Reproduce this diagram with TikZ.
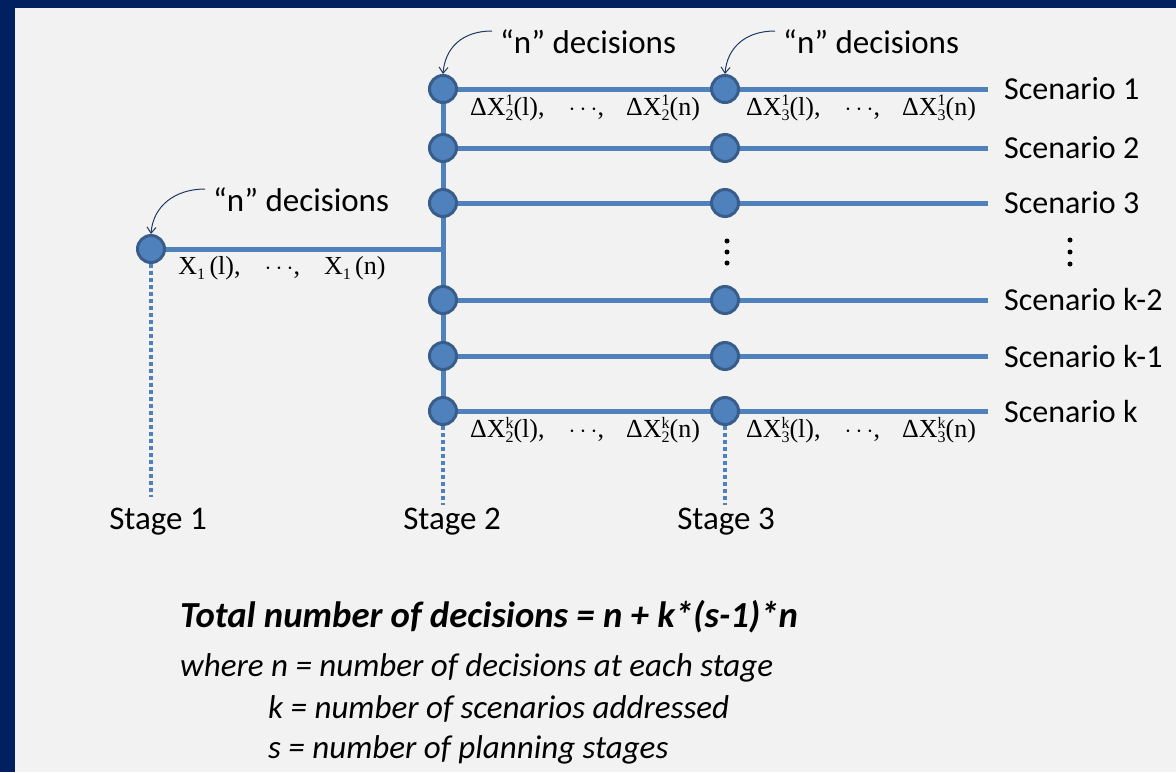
\documentclass[tikz,border=0pt]{standalone}
\usepackage{fontspec}
\setmainfont{Carlito}
\newfontfamily\tnr{Liberation Serif}
\usetikzlibrary{arrows.meta}
\definecolor{navy}{HTML}{002060}
\definecolor{bgc}{HTML}{F2F2F2}
\definecolor{lineblue}{HTML}{4F81BD}
\definecolor{nodeborder}{HTML}{385D8A}
\definecolor{arrowc}{HTML}{1F3864}
\newcommand\mysupsub[2]{\raisebox{-5.5pt}{\fontsize{16}{14}\selectfont\begin{tabular}[b]{@{}l@{}}#1\\#2\end{tabular}}}
\newcommand\mysub[1]{{\fontsize{16}{16}\selectfont\raisebox{-5.5pt}{#1}}}
\newcommand\mydots{{\fontsize{24}{24}\selectfont$\cdots$}}
\tikzset{
  dec/.style={circle, minimum size=27pt, inner sep=0pt, fill=lineblue, draw=nodeborder, line width=3pt},
  bl/.style={draw=lineblue, line width=5pt},
  dotl/.style={draw=lineblue, line width=3.5pt, dash pattern=on 4pt off 3pt},
  arr/.style={draw=arrowc, line width=1pt, -{Straight Barb[length=6pt,width=9pt]}},
  big/.style={font=\fontsize{32}{36}\selectfont, inner sep=0pt, anchor=west},
  nd/.style={font=\fontsize{33}{36}\selectfont, inner sep=0pt, anchor=west},
  stg/.style={font=\fontsize{33}{36}\selectfont, inner sep=0pt},
  lab/.style={font=\tnr\fontsize{26}{28}\selectfont, inner sep=0pt},
  vdot/.style={circle, fill=black, inner sep=0pt, minimum size=5pt},
}
\begin{document}
\begin{tikzpicture}[x=1pt,y=-1pt]
\useasboundingbox (0,0) rectangle (1176,772);
\fill[navy] (0,0) rectangle (1176,772);
\fill[bgc] (15,8) rectangle (1176,772);

% coordinates
\coordinate (j) at (443,249);
\foreach \i/\y in {1/89,2/148,3/203,4/300,5/356,6/411}{
  \coordinate (e\i) at (988,\y);
}
\coordinate (d1) at (151,497);
\coordinate (d2) at (443,505);
\coordinate (d3) at (725,505);

% lines
\draw[bl] (151,249) -- (j);
\draw[bl] (443,89) -- (443,411);
\foreach \i/\y in {1/89,2/148,3/203,4/300,5/356,6/411}{
  \draw[bl] (443,\y) -- (e\i);
}

% nodes
\node[dec] (s1) at (151,249) {};
\foreach \i/\y in {1/89,2/148,3/203,4/300,5/356,6/411}{
  \node[dec] (a\i) at (443,\y) {};
  \node[dec] (b\i) at (725,\y) {};
}

% dotted stage lines
\draw[dotl] (s1.south) -- (d1);
\draw[dotl] (a6.south) -- (d2);
\draw[dotl] (b6.south) -- (d3);

% vertical dots
\node[vdot] (v1) at (727,241) {};
\node[vdot] (v2) at (727,252) {};
\node[vdot] (v3) at (727,263) {};
\node[vdot] (w1) at (1070,240) {};
\node[vdot] (w2) at (1070,252) {};
\node[vdot] (w3) at (1070,264) {};

% scenario labels
\node[big] (sc1) at (1004,89) {Scenario 1};
\node[big] (sc2) at (1004,148) {Scenario 2};
\node[big] (sc3) at (1004,203) {Scenario 3};
\node[big] (sc4) at (1004,300) {Scenario k-2};
\node[big] (sc5) at (1004,356) {Scenario k-1};
\node[big] (sc6) at (1004,411) {Scenario k};

% stage labels
\node[stg] (st1) at (158,522) {Stage 1};
\node[stg] (st2) at (452,522) {Stage 2};
\node[stg] (st3) at (726,522) {Stage 3};

% n decisions
\node[nd] (n2) at (500,42) {“n” decisions};
\node[nd] (n3) at (783,42) {“n” decisions};
\node[nd] (n1) at (213,200) {“n” decisions};
\draw[arr] (492,31) .. controls (462,31) and (445,48) .. (a1.north);
\draw[arr] (775,31) .. controls (745,31) and (727,48) .. (b1.north);
\draw[arr] (205,189) .. controls (175,189) and (153,206) .. (s1.north);

% decision labels
\node[lab] (x1) at (282,268) {X\mysub{1}\,(l),\hspace{24pt}\mydots,\hspace{24pt}X\mysub{1}\,(n)};
\node[lab] (l21) at (585,110) {ΔX\mysupsub{1}{2}(l),\hspace{24pt}\mydots,\hspace{22pt}ΔX\mysupsub{1}{2}(n)};
\node[lab] (l31) at (861,110) {ΔX\mysupsub{1}{3}(l),\hspace{24pt}\mydots,\hspace{22pt}ΔX\mysupsub{1}{3}(n)};
\node[lab] (l2k) at (585,432) {ΔX\mysupsub{k}{2}(l),\hspace{24pt}\mydots,\hspace{22pt}ΔX\mysupsub{k}{2}(n)};
\node[lab] (l3k) at (861,432) {ΔX\mysupsub{k}{3}(l),\hspace{24pt}\mydots,\hspace{22pt}ΔX\mysupsub{k}{3}(n)};

% bottom text
\node[inner sep=0pt, anchor=west, font=\fontsize{36.7}{40}\selectfont\bfseries\itshape] (tot) at (180,617) {Total number of decisions = n + k*(s-1)*n};
\node[inner sep=0pt, anchor=west, font=\fontsize{33}{36}\selectfont\itshape] (w) at (180,668) {where n = number of decisions at each stage};
\node[inner sep=0pt, anchor=west, font=\fontsize{33}{36}\selectfont\itshape] (k) at (268,709) {k = number of scenarios addressed};
\node[inner sep=0pt, anchor=west, font=\fontsize{33}{36}\selectfont\itshape] (s) at (268,750) {s = number of planning stages};
\end{tikzpicture}
\end{document}
